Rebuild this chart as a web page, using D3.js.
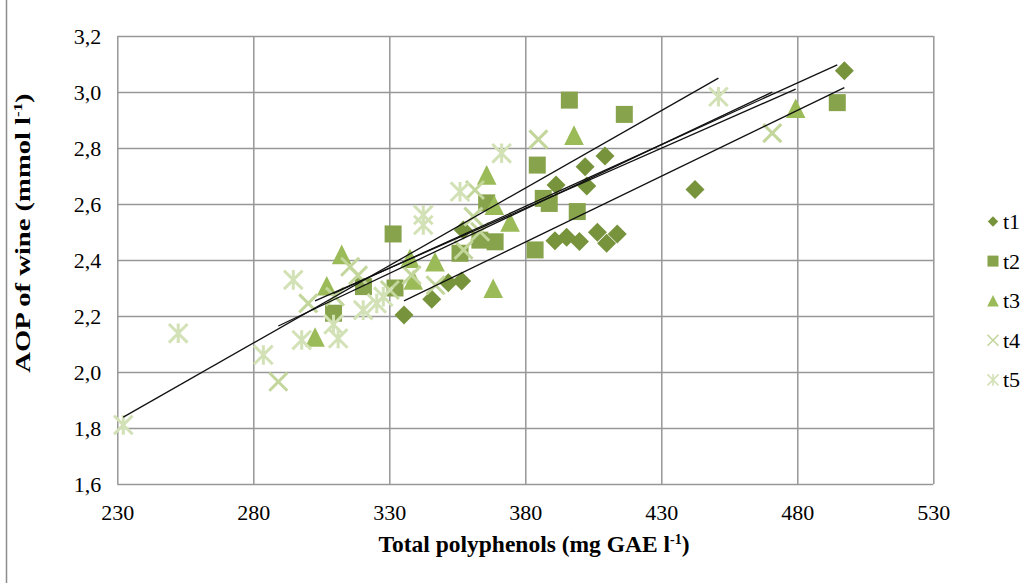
<!DOCTYPE html>
<html><head><meta charset="utf-8">
<script src="https://cdn.jsdelivr.net/npm/d3@7"></script>
<style>
body{margin:0;background:#fff}
svg{display:block}
text{font-family:"Liberation Serif","Times New Roman",serif;fill:#000}
</style>
</head><body>
<svg id="c" width="1030" height="583"></svg>
<script>
// ---- data ----
const seriesNames = ["t1","t2","t3","t4","t5"];
const t1 = [[335.4,2.204],[345.6,2.26],[351.7,2.319],[356.6,2.325],[357.2,2.507],[390.9,2.469],[395.2,2.481],[399.9,2.466],[406.5,2.499],[409.9,2.46],[413.8,2.493],[391.3,2.668],[402.6,2.664],[402.0,2.733],[409.3,2.771],[442.4,2.652],[497.3,3.076]];
const t2 = [[309.5,2.21],[320.5,2.305],[332.1,2.30],[331.4,2.493],[356.0,2.424],[363.3,2.471],[368.9,2.465],[365.8,2.604],[383.6,2.436],[384.4,2.739],[386.6,2.62],[388.8,2.602],[399.1,2.573],[396.2,2.971],[416.4,2.92],[494.7,2.962]];
const t3 = [[302.7,2.125],[307.0,2.308],[312.5,2.42],[337.6,2.406],[338.8,2.329],[346.8,2.394],[365.8,2.704],[368.6,2.596],[374.4,2.536],[368.2,2.299],[397.9,2.846],[479.4,2.942]];
const t4 = [[289.2,1.965],[300.2,2.245],[310.0,2.269],[315.6,2.376],[318.5,2.345],[330.2,2.293],[338.2,2.346],[347.0,2.31],[357.3,2.436],[360.9,2.555],[363.4,2.501],[361.5,2.65],[384.8,2.831],[470.8,2.853]];
const t5 = [[232.2,1.811],[252.4,2.138],[283.7,2.061],[294.7,2.329],[297.8,2.114],[311.2,2.12],[309.5,2.17],[320.4,2.221],[325.4,2.245],[327.8,2.269],[342.5,2.525],[342.5,2.561],[356.0,2.644],[371.3,2.781],[451.0,2.983]];
const xTicks = [230,280,330,380,430,480,530];
const yTicks = [1.6,1.8,2.0,2.2,2.4,2.6,2.8,3.0,3.2];
const xTitle = "Total polyphenols (mg GAE l";
const yTitle = "AOP of wine (mmol l";
const colors = ["#77933c","#87a34b","#9bbb59","#c3d69b","#d3e2b6"];
const shapes = ["diamond","square","triangle","x","star"];
const allSeries = [t1,t2,t3,t4,t5];

// ---- chart ----
const svg = d3.select("#c");
const x = d3.scaleLinear().domain([230,530]).range([117.3,933.3]);
const y = d3.scaleLinear().domain([1.6,3.2]).range([484,36]);
const fmt = v => d3.format(".1f")(v).replace(".", ",");

svg.append("line").attr("x1",6.5).attr("x2",6.5).attr("y1",0).attr("y2",583)
  .attr("stroke","#8c8c8c").attr("stroke-width",1.5);

const W = x.range()[1]-x.range()[0], H = y.range()[0]-y.range()[1];
const gy = svg.append("g").attr("transform",`translate(${x.range()[0]},0)`)
  .call(d3.axisLeft(y).tickValues(yTicks).tickFormat(fmt).tickSize(-W).tickPadding(16));
const gx = svg.append("g").attr("transform",`translate(0,${y.range()[0]})`)
  .call(d3.axisBottom(x).tickValues(xTicks).tickFormat(d3.format("d")).tickSize(-H).tickPadding(20.4));
[gx,gy].forEach(g=>{
  g.select(".domain").remove();
  g.selectAll(".tick line").attr("stroke","#979797").attr("stroke-width",1.5);
  g.selectAll("text").attr("font-size",22).attr("font-family","Liberation Serif");
});

function shapePath(s, r){
  if(s==="diamond") return `M0,${-r}L${r},0L0,${r}L${-r},0Z`;
  if(s==="square") return `M${-r},${-r}H${r}V${r}H${-r}Z`;
  if(s==="triangle") return `M0,${-r}L${r},${r}L${-r},${r}Z`;
  if(s==="x") return `M${-r},${-r}L${r},${r}M${-r},${r}L${r},${-r}`;
  return `M${-r},${-r}L${r},${r}M${-r},${r}L${r},${-r}M0,${-r*1.05}L0,${r*1.05}`;
}
const bigR = {diamond:9.5,square:8.5,triangle:9.8,x:9,star:9.3};
const smallR = {diamond:5.2,square:5.5,triangle:5.8,x:5.5,star:5.5};

allSeries.forEach((data,i)=>{
  const s = shapes[i], filled = (s!=="x" && s!=="star");
  svg.append("g").selectAll("path").data(data).join("path")
    .attr("transform",d=>`translate(${x(d[0])},${y(d[1])})`)
    .attr("d",shapePath(s,bigR[s]))
    .attr("fill",filled?colors[i]:"none")
    .attr("stroke",filled?"none":colors[i])
    .attr("stroke-width",filled?0:3);
});

// linear trendlines
allSeries.forEach(data=>{
  const mx = d3.mean(data,d=>d[0]), my = d3.mean(data,d=>d[1]);
  const sxy = d3.sum(data,d=>(d[0]-mx)*(d[1]-my)), sxx = d3.sum(data,d=>(d[0]-mx)**2);
  const b = sxy/sxx, a = my-b*mx;
  const [x0,x1] = d3.extent(data,d=>d[0]);
  svg.append("line").attr("x1",x(x0)).attr("y1",y(a+b*x0)).attr("x2",x(x1)).attr("y2",y(a+b*x1))
    .attr("stroke","#111").attr("stroke-width",1.3);
});

// legend
const lg = svg.append("g");
seriesNames.forEach((n,i)=>{
  const s = shapes[i], filled = (s!=="x" && s!=="star");
  const cy = 221.5 + i*39.6;
  lg.append("path").attr("transform",`translate(993,${cy})`).attr("d",shapePath(s,smallR[s]))
    .attr("fill",filled?colors[i]:"none").attr("stroke",filled?"none":colors[i]).attr("stroke-width",filled?0:1.6);
  lg.append("text").attr("x",1003).attr("y",cy+7.5).attr("font-size",22).text(n);
});

// axis titles
const xt = svg.append("text").attr("x",534).attr("y",552).attr("text-anchor","middle")
  .attr("font-size",23.5).attr("font-weight","bold");
xt.append("tspan").text(xTitle);
xt.append("tspan").attr("dy",-8).attr("font-size",14).text("-1");
xt.append("tspan").attr("dy",8).text(")");

const yt = svg.append("text").attr("transform","translate(30,233) rotate(-90) scale(1.3,1)")
  .attr("text-anchor","middle").attr("font-size",22).attr("font-weight","bold");
yt.append("tspan").text(yTitle);
yt.append("tspan").attr("dy",-8).attr("font-size",13).text("-1");
yt.append("tspan").attr("dy",8).text(")");
</script>
</body></html>
